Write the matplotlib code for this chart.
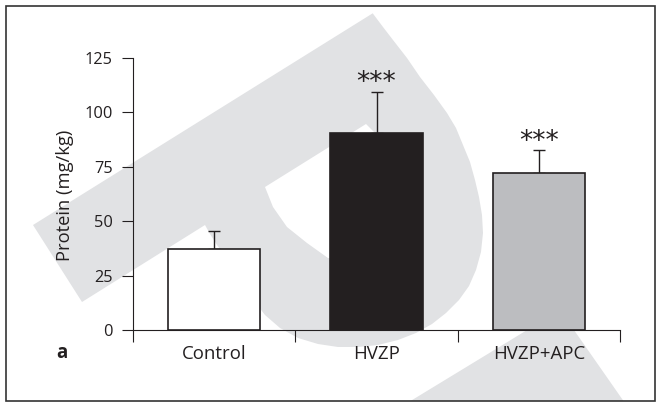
import matplotlib
matplotlib.use("Agg")
import matplotlib.pyplot as plt
from matplotlib.patches import Polygon, Rectangle
import numpy as np

# ---- data -------------------------------------------------------------
groups = ["Control", "HVZP", "HVZP+APC"]
protein_mean = [37.0, 90.5, 72.0]
protein_err = [8.7, 19.0, 10.5]
significance = ["", "***", "***"]
y_ticks = [0, 25, 50, 75, 100, 125]

# ---- style ------------------------------------------------------------
bar_fill = ["#ffffff", "#231f20", "#bcbdc0"]
ink = "#231f20"
shade = "#e1e2e4"

W, H = 660, 403
plt.rcParams["font.family"] = ["Open Sans", "DejaVu Sans"]
fig = plt.figure(figsize=(W / 100, H / 100), dpi=100)


def to_fig(points):
    """Pixel coordinates (origin top-left) -> figure fraction."""
    return [(x / W, 1 - y / H) for x, y in points]


# ---- light background emblem --------------------------------------------
emblem_outer = [
    (33, 225), (372.7, 13.3), (383, 27), (393, 40), (407, 58), (420, 77),
    (434, 95), (447, 113), (456, 128), (463, 145), (470, 162), (475, 180),
    (479, 197), (482, 215), (483, 233), (481, 252), (476, 270), (469, 286),
    (459, 300), (446, 313), (432, 324), (416, 333), (398, 340), (378, 345),
    (358, 347), (338, 347), (318, 344), (298, 338), (280, 328), (265, 315),
    (255, 302), (245, 287), (238, 275), (226, 257), (217, 245), (210, 234),
    (205, 225), (82, 302),
]
emblem_hole = [
    (265, 187), (366, 124), (375, 133), (400, 165), (405, 210), (395, 250),
    (360, 262), (328, 258), (307, 243), (287, 227), (273, 207),
]
emblem_wedge = [(560, 310), (623.5, 401), (410.5, 401)]

for pts, col in ((emblem_outer, shade), (emblem_hole, "white"), (emblem_wedge, shade)):
    fig.add_artist(Polygon(to_fig(pts), closed=True, transform=fig.transFigure,
                           facecolor=col, edgecolor="none", zorder=-10))

# ---- axes -------------------------------------------------------------
ax = fig.add_axes([133 / W, 1 - 330 / H, (620 - 133) / W, (330 - 58) / H])
ax.set_facecolor("none")

x = np.arange(len(groups))
ax.bar(x, protein_mean, width=0.57, color=bar_fill, edgecolor=ink,
       linewidth=1.2, zorder=3)
ax.errorbar(x, protein_mean, yerr=[np.zeros(len(x)), protein_err], fmt="none",
            ecolor=ink, elinewidth=1.0, capsize=4, capthick=1.0, zorder=2)

for xi, m, e, lab in zip(x, protein_mean, protein_err, significance):
    if lab:
        ax.text(xi, m + e + 3.8, lab, ha="center", va="center",
                fontsize=19, color=ink, family="DejaVu Sans")

ax.set_xlim(-0.5, 2.5)
ax.set_ylim(0, 125)
ax.set_yticks(y_ticks)
ax.set_xticks(x)
ax.set_xticklabels(groups)
ax.set_xticks([-0.5, 0.5, 1.5, 2.5], minor=True)

ax.tick_params(axis="y", direction="out", length=8, width=0.8, pad=6.5,
               labelsize=11.8, colors=ink)
ax.tick_params(axis="x", which="major", length=0, pad=10.5,
               labelsize=13.4, colors=ink)
ax.tick_params(axis="x", which="minor", direction="out", length=8.5,
               width=0.8, colors=ink)

for side in ("top", "right"):
    ax.spines[side].set_visible(False)
for side in ("left", "bottom"):
    ax.spines[side].set_linewidth(0.8)
    ax.spines[side].set_color(ink)

fig.text(65 / W, 1 - 195 / H, "Protein (mg/kg)", rotation=90, ha="center",
         va="center", fontsize=13.2, color=ink)
fig.text(56 / W, 1 - 358 / H, "a", fontweight="bold", fontsize=13.4,
         ha="left", va="baseline", color=ink)

# ---- panel frame ------------------------------------------------------
fig.add_artist(Rectangle((5.5 / W, 1 - 401 / H), (654.5 - 5.5) / W,
                         (401 - 5.5) / H, fill=False, edgecolor="#333333",
                         linewidth=1.2, transform=fig.transFigure, zorder=10))

fig.savefig("out.png", dpi=100)
